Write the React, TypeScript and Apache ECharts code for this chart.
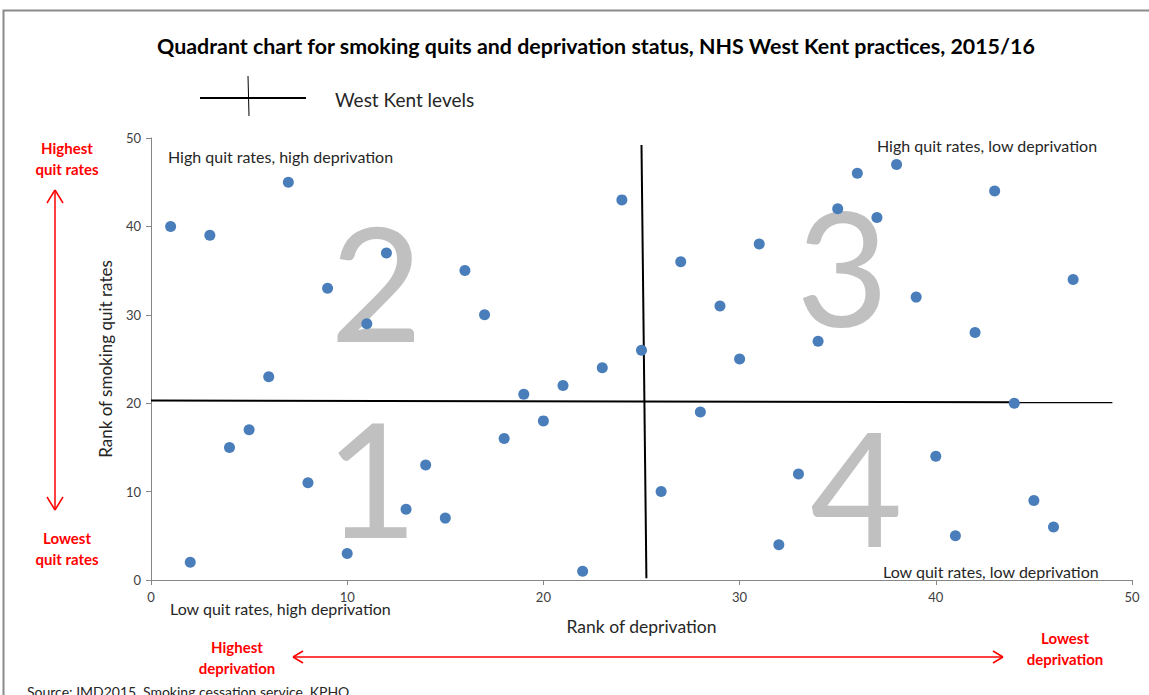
import React, { useEffect, useRef } from "react";
import * as echarts from "echarts";

const rankDeprivation = [1, 2, 3, 4, 5, 6, 7, 8, 9, 10, 11, 12, 13, 14, 15, 16, 17, 18, 19, 20, 21, 22, 23, 24, 25, 26, 27, 28, 29, 30, 31, 32, 33, 34, 35, 36, 37, 38, 39, 40, 41, 42, 43, 44, 45, 46, 47];
const rankQuitRates = [40, 2, 39, 15, 17, 23, 45, 11, 33, 3, 29, 37, 8, 13, 7, 35, 30, 16, 21, 18, 22, 1, 24, 43, 26, 10, 36, 19, 31, 25, 38, 4, 12, 27, 42, 46, 41, 47, 32, 14, 5, 28, 44, 20, 9, 6, 34];
const westKentVertical = [[25.0, 49.2], [25.25, 0.2]];
const westKentHorizontal = [[0, 20.3], [49, 20.1]];
const axisTicks = [0, 10, 20, 30, 40, 50];

const FONT = "Lato, 'Open Sans', sans-serif";
const RED = "#ff0000";

export default function App() {
  const ref = useRef<HTMLDivElement>(null);
  useEffect(() => {
    if (!ref.current) return;
    const chart = echarts.init(ref.current, undefined, { renderer: "svg" });
    const points = rankDeprivation.map((x, i) => [x, rankQuitRates[i]]);
    const bigDigit = (t: string, x: number, y: number) => ({
      type: "text",
      left: x,
      top: y,
      silent: true,
      z: -1,
      style: { text: t, fill: "#c0c0c0", font: `160px ${FONT}` },
    });
    const smallText = (t: string, x: number, y: number) => ({
      type: "text",
      x,
      y,
      style: { text: t, fill: "#262626", font: `16px ${FONT}`, verticalAlign: "middle" },
    });
    const redText = (t: string, x: number, y: number) => ({
      type: "text",
      x,
      y,
      style: { text: t, fill: RED, font: `bold 15px ${FONT}`, align: "center", verticalAlign: "middle", lineHeight: 21 },
    });
    const redLine = (x1: number, y1: number, x2: number, y2: number) => ({
      type: "line",
      shape: { x1, y1, x2, y2 },
      style: { stroke: RED, lineWidth: 1.5 },
    });
    chart.setOption({
      animation: false,
      backgroundColor: "#ffffff",
      title: {
        text: "Quadrant chart for smoking quits and deprivation status, NHS West Kent practices, 2015/16",
        left: 152,
        top: 30,
        textStyle: { fontFamily: FONT, fontWeight: "bold", fontSize: 21.4, color: "#000" },
      },
      grid: { left: 151, right: 17, top: 138, bottom: 115 },
      xAxis: {
        type: "value",
        min: axisTicks[0],
        max: axisTicks[axisTicks.length - 1],
        interval: 10,
        name: "Rank of deprivation",
        nameLocation: "middle",
        nameGap: 37,
        nameTextStyle: { fontFamily: FONT, fontSize: 17.5, color: "#262626" },
        axisLine: { show: true, lineStyle: { color: "#868686" } },
        axisTick: { show: true, length: 5, lineStyle: { color: "#868686" } },
        axisLabel: { fontFamily: FONT, fontSize: 13, color: "#404040", margin: 10 },
        splitLine: { show: false },
      },
      yAxis: {
        type: "value",
        min: axisTicks[0],
        max: axisTicks[axisTicks.length - 1],
        interval: 10,
        name: "Rank of smoking quit rates",
        nameLocation: "middle",
        nameGap: 37,
        nameTextStyle: { fontFamily: FONT, fontSize: 17, color: "#262626" },
        axisLine: { show: true, lineStyle: { color: "#868686" } },
        axisTick: { show: true, length: 5, lineStyle: { color: "#868686" } },
        axisLabel: { fontFamily: FONT, fontSize: 13, color: "#404040", margin: 10 },
        splitLine: { show: false },
      },
      series: [
        {
          name: "Practices",
          type: "scatter",
          data: points,
          symbol: "circle",
          symbolSize: 11,
          itemStyle: { color: "#4a7ebb", opacity: 1 },
          z: 3,
        },
        {
          name: "West Kent levels",
          type: "line",
          data: westKentVertical,
          symbol: "none",
          lineStyle: { color: "#000", width: 2 },
          z: 2,
        },
        {
          name: "West Kent levels",
          type: "line",
          data: westKentHorizontal,
          symbol: "none",
          lineStyle: { color: "#000", width: 2 },
          z: 2,
        },
      ],
      graphic: [
        { type: "rect", shape: { x: 3.5, y: 10.5, width: 1200, height: 800 }, style: { fill: "none", stroke: "#8a8a8a", lineWidth: 2 }, silent: true, z: -10 },
        bigDigit("2", 330, 200),
        bigDigit("3", 796, 185),
        bigDigit("1", 325, 396),
        bigDigit("4", 810, 405),
        smallText("High quit rates, high deprivation", 168, 156),
        smallText("High quit rates, low deprivation", 877, 145),
        smallText("Low quit rates, low deprivation", 883, 571),
        smallText("Low quit rates, high deprivation", 170, 608),
        // legend
        { type: "line", shape: { x1: 200, y1: 98, x2: 306, y2: 98 }, style: { stroke: "#000", lineWidth: 2 } },
        { type: "line", shape: { x1: 248, y1: 76, x2: 249, y2: 116 }, style: { stroke: "#000", lineWidth: 1 } },
        { type: "text", x: 335, y: 99, style: { text: "West Kent levels", fill: "#262626", font: `19px ${FONT}`, verticalAlign: "middle" } },
        // red annotations (vertical)
        redText("Highest\nquit rates", 67, 158),
        redText("Lowest\nquit rates", 67, 548),
        redLine(55, 190, 55, 510),
        redLine(55, 190, 47, 203),
        redLine(55, 190, 63, 203),
        redLine(55, 510, 47, 497),
        redLine(55, 510, 63, 497),
        // red annotations (horizontal)
        redText("Highest\ndeprivation", 237, 657),
        redText("Lowest\ndeprivation", 1065, 648),
        redLine(293, 657, 1003, 657),
        redLine(293, 657, 303, 651),
        redLine(293, 657, 303, 663),
        redLine(1003, 657, 993, 651),
        redLine(1003, 657, 993, 663),
        { type: "text", left: 27, top: 684, style: { text: "Source: IMD2015, Smoking cessation service, KPHO", fill: "#262626", font: `14px ${FONT}` } },
      ],
    });
    return () => chart.dispose();
  }, []);
  return (
    <div
      ref={ref}
      style={{ position: "fixed", left: 0, top: 0, width: 1149, height: 695, background: "#fff" }}
    />
  );
}
